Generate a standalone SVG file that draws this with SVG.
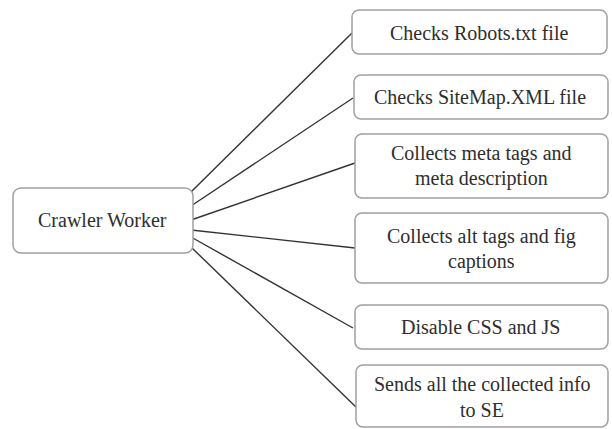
<svg xmlns="http://www.w3.org/2000/svg" width="612" height="429" viewBox="0 0 612 429">
<style>
.box{fill:#fff;stroke:#a0a0a0;stroke-width:1.5}
.c{stroke:#333;stroke-width:1.4;fill:none}
.t{font-family:"Liberation Serif",serif !important;font-size:20px;fill:#2e2e2e}
</style>
<rect width="612" height="429" fill="#fff"/>
<g id="connectors">
<line class="c" x1="191" y1="192" x2="352" y2="33"/>
<line class="c" x1="191" y1="206" x2="353" y2="98"/>
<line class="c" x1="191" y1="220" x2="355" y2="163"/>
<line class="c" x1="191" y1="230" x2="355" y2="248"/>
<line class="c" x1="191" y1="237" x2="353" y2="328"/>
<line class="c" x1="191" y1="247" x2="357" y2="408"/>
</g>
<g id="crawler"><rect class="box" x="13" y="188" width="180" height="65" rx="8"/><text class="t" x="38" y="227" style="font-family:'Liberation Serif',serif !important">Crawler Worker</text></g>
<g id="robots"><rect class="box" x="352" y="10" width="255" height="44" rx="7"/><text class="t" x="390" y="40" style="font-family:'Liberation Serif',serif !important">Checks Robots.txt file</text></g>
<g id="sitemap"><rect class="box" x="354" y="75" width="254" height="44" rx="7"/><text class="t" x="374" y="104" style="font-family:'Liberation Serif',serif !important">Checks SiteMap.XML file</text></g>
<g id="meta"><rect class="box" x="355" y="134" width="253" height="64" rx="7"/><text class="t" x="391" y="160" style="font-family:'Liberation Serif',serif !important">Collects meta tags and</text><text class="t" x="415" y="185" style="font-family:'Liberation Serif',serif !important">meta description</text></g>
<g id="alt"><rect class="box" x="355" y="213" width="253" height="70" rx="7"/><text class="t" x="387" y="243" style="font-family:'Liberation Serif',serif !important">Collects alt tags and fig</text><text class="t" x="448" y="268" style="font-family:'Liberation Serif',serif !important">captions</text></g>
<g id="disable"><rect class="box" x="355" y="305" width="253" height="44" rx="7"/><text class="t" x="401" y="334" style="font-family:'Liberation Serif',serif !important">Disable CSS and JS</text></g>
<g id="sends"><rect class="box" x="356" y="365" width="252" height="62" rx="7"/><text class="t" x="374" y="391" style="font-family:'Liberation Serif',serif !important">Sends all the collected info</text><text class="t" x="460" y="417" style="font-family:'Liberation Serif',serif !important">to SE</text></g>
</svg>
